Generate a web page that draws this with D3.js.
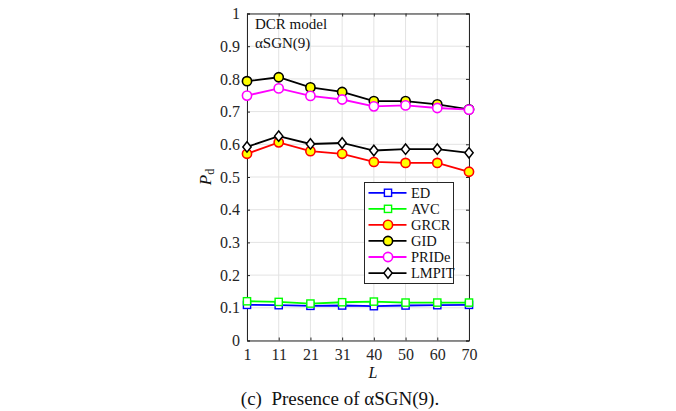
<!DOCTYPE html>
<html>
<head>
<meta charset="utf-8">
<script src="https://cdn.jsdelivr.net/npm/d3@7"></script>
<style>
  html, body { margin: 0; padding: 0; background: #fff; }
  svg { display: block; }
  text { font-family: "Liberation Serif", "Times New Roman", serif; }
</style>
</head>
<body>
<svg id="chart" width="676" height="411"></svg>
<script>
// Window lengths L (categorical, evenly spaced)
const categories = [1, 11, 21, 31, 40, 50, 60, 70];

// Detection probability P_d per detector
const edValues    = [0.109, 0.108, 0.106, 0.107, 0.105, 0.107, 0.108, 0.109];
const avcValues   = [0.120, 0.118, 0.113, 0.117, 0.119, 0.116, 0.116, 0.116];
const grcrValues  = [0.571, 0.606, 0.579, 0.571, 0.546, 0.543, 0.543, 0.516];
const gidValues   = [0.793, 0.805, 0.774, 0.760, 0.732, 0.732, 0.722, 0.707];
const prideValues = [0.749, 0.771, 0.748, 0.737, 0.716, 0.719, 0.711, 0.706];
const lmpitValues = [0.592, 0.625, 0.601, 0.604, 0.581, 0.585, 0.585, 0.574];

const seriesNames = ["ED", "AVC", "GRCR", "GID", "PRIDe", "LMPIT"];
const yTicks = [0, 0.1, 0.2, 0.3, 0.4, 0.5, 0.6, 0.7, 0.8, 0.9, 1];

const series = [
  { name: seriesNames[0], values: edValues,    line: "#0000ff", marker: "square",  fill: "#fff",    stroke: "#0000ff" },
  { name: seriesNames[1], values: avcValues,   line: "#00ff00", marker: "square",  fill: "#fff",    stroke: "#00ff00" },
  { name: seriesNames[2], values: grcrValues,  line: "#ff0000", marker: "circle",  fill: "#ffff00", stroke: "#ff0000" },
  { name: seriesNames[3], values: gidValues,   line: "#000000", marker: "circle",  fill: "#ffff00", stroke: "#000000" },
  { name: seriesNames[4], values: prideValues, line: "#ff00ff", marker: "circle",  fill: "#fff",    stroke: "#ff00ff" },
  { name: seriesNames[5], values: lmpitValues, line: "#000000", marker: "diamond", fill: "#fff",    stroke: "#000000" }
];

const svg = d3.select("#chart");
const plot = { left: 247, right: 469, top: 13.5, bottom: 340.5 };

const x = d3.scalePoint().domain(categories).range([plot.left, plot.right]);
const y = d3.scaleLinear().domain([0, 1]).range([plot.bottom, plot.top]);

const axisColor = "#262626";
const gridColor = "#e3e3e3";
const serif = "'Liberation Serif', 'Times New Roman', serif";

// grid
const grid = svg.append("g");
grid.selectAll("line.gx").data(categories).join("line")
  .attr("x1", d => x(d)).attr("x2", d => x(d))
  .attr("y1", plot.top).attr("y2", plot.bottom)
  .attr("stroke", gridColor).attr("stroke-width", 1);
grid.selectAll("line.gy").data(yTicks).join("line")
  .attr("x1", plot.left).attr("x2", plot.right)
  .attr("y1", d => y(d)).attr("y2", d => y(d))
  .attr("stroke", gridColor).attr("stroke-width", 1);

// axes (ticks pointing inward)
const fmt = d => d === 0 ? "0" : (d === 1 ? "1" : d3.format(".1f")(d));
const xAxis = svg.append("g")
  .attr("transform", `translate(0,${plot.bottom})`)
  .call(d3.axisBottom(x).tickSize(-3).tickPadding(8));
const yAxis = svg.append("g")
  .attr("transform", `translate(${plot.left},0)`)
  .call(d3.axisLeft(y).tickValues(yTicks).tickFormat(fmt).tickSize(-3).tickPadding(7));
const xAxisTop = svg.append("g")
  .attr("transform", `translate(0,${plot.top})`)
  .call(d3.axisTop(x).tickSize(-3).tickFormat(""));
const yAxisRight = svg.append("g")
  .attr("transform", `translate(${plot.right},0)`)
  .call(d3.axisRight(y).tickValues(yTicks).tickSize(-3).tickFormat(""));

[xAxis, yAxis, xAxisTop, yAxisRight].forEach(g => {
  g.attr("font-family", serif);
  g.select(".domain").attr("stroke", axisColor).attr("stroke-width", 1);
  g.selectAll(".tick line").attr("stroke", axisColor);
  g.selectAll(".tick text")
    .attr("fill", axisColor)
    .attr("font-family", serif)
    .attr("font-size", 16);
});

// markers
function drawMarker(g, type, cx, cy, fill, stroke) {
  if (type === "circle") {
    g.append("circle").attr("cx", cx).attr("cy", cy).attr("r", 4.6)
      .attr("fill", fill).attr("stroke", stroke).attr("stroke-width", 1.6);
  } else if (type === "square") {
    g.append("rect").attr("x", cx - 3.6).attr("y", cy - 3.6).attr("width", 7.2).attr("height", 7.2)
      .attr("fill", fill).attr("stroke", stroke).attr("stroke-width", 1.4);
  } else {
    const s = 5.2;
    g.append("path").attr("d", `M${cx},${cy - s}L${cx + s * 0.8},${cy}L${cx},${cy + s}L${cx - s * 0.8},${cy}Z`)
      .attr("fill", fill).attr("stroke", stroke).attr("stroke-width", 1.5);
  }
}

const line = d3.line().x((d, i) => x(categories[i])).y(d => y(d));
const lines = svg.append("g");
series.forEach(s => {
  const g = lines.append("g");
  g.append("path").datum(s.values).attr("d", line)
    .attr("fill", "none").attr("stroke", s.line).attr("stroke-width", 1.8);
  s.values.forEach((v, i) => drawMarker(g, s.marker, x(categories[i]), y(v), s.fill, s.stroke));
});

// annotation text
svg.append("text").attr("x", 255).attr("y", 29).attr("font-size", 15).attr("fill", "#111").text("DCR model");
svg.append("text").attr("x", 255).attr("y", 48).attr("font-size", 15).attr("fill", "#111").text("αSGN(9)");

// legend
const legend = svg.append("g");
legend.append("rect").attr("x", 364.5).attr("y", 182.5).attr("width", 89).attr("height", 101)
  .attr("fill", "#fff").attr("stroke", axisColor).attr("stroke-width", 1);
series.forEach((s, i) => {
  const cy = 192.8 + i * 16.05;
  legend.append("line").attr("x1", 368.5).attr("x2", 406.5).attr("y1", cy).attr("y2", cy)
    .attr("stroke", s.line).attr("stroke-width", 1.8);
  drawMarker(legend, s.marker, 388, cy, s.fill, s.stroke);
  legend.append("text").attr("x", 411).attr("y", cy + 5).attr("font-size", 14.5).attr("fill", "#111").text(s.name);
});

// axis labels
svg.append("text").attr("x", 373).attr("y", 378).attr("text-anchor", "middle")
  .attr("font-size", 16).attr("font-style", "italic").attr("fill", "#111").text("L");
const yl = svg.append("text").attr("transform", "translate(211,177) rotate(-90)")
  .attr("text-anchor", "middle").attr("font-size", 17).attr("fill", "#111");
yl.append("tspan").attr("font-style", "italic").text("P");
yl.append("tspan").attr("font-size", 12).attr("dy", 3).text("d");

// caption
svg.append("text").attr("x", 340).attr("y", 405).attr("text-anchor", "middle")
  .attr("font-size", 19).attr("fill", "#111").attr("xml:space", "preserve").text("(c)  Presence of αSGN(9).");
</script>
</body>
</html>
